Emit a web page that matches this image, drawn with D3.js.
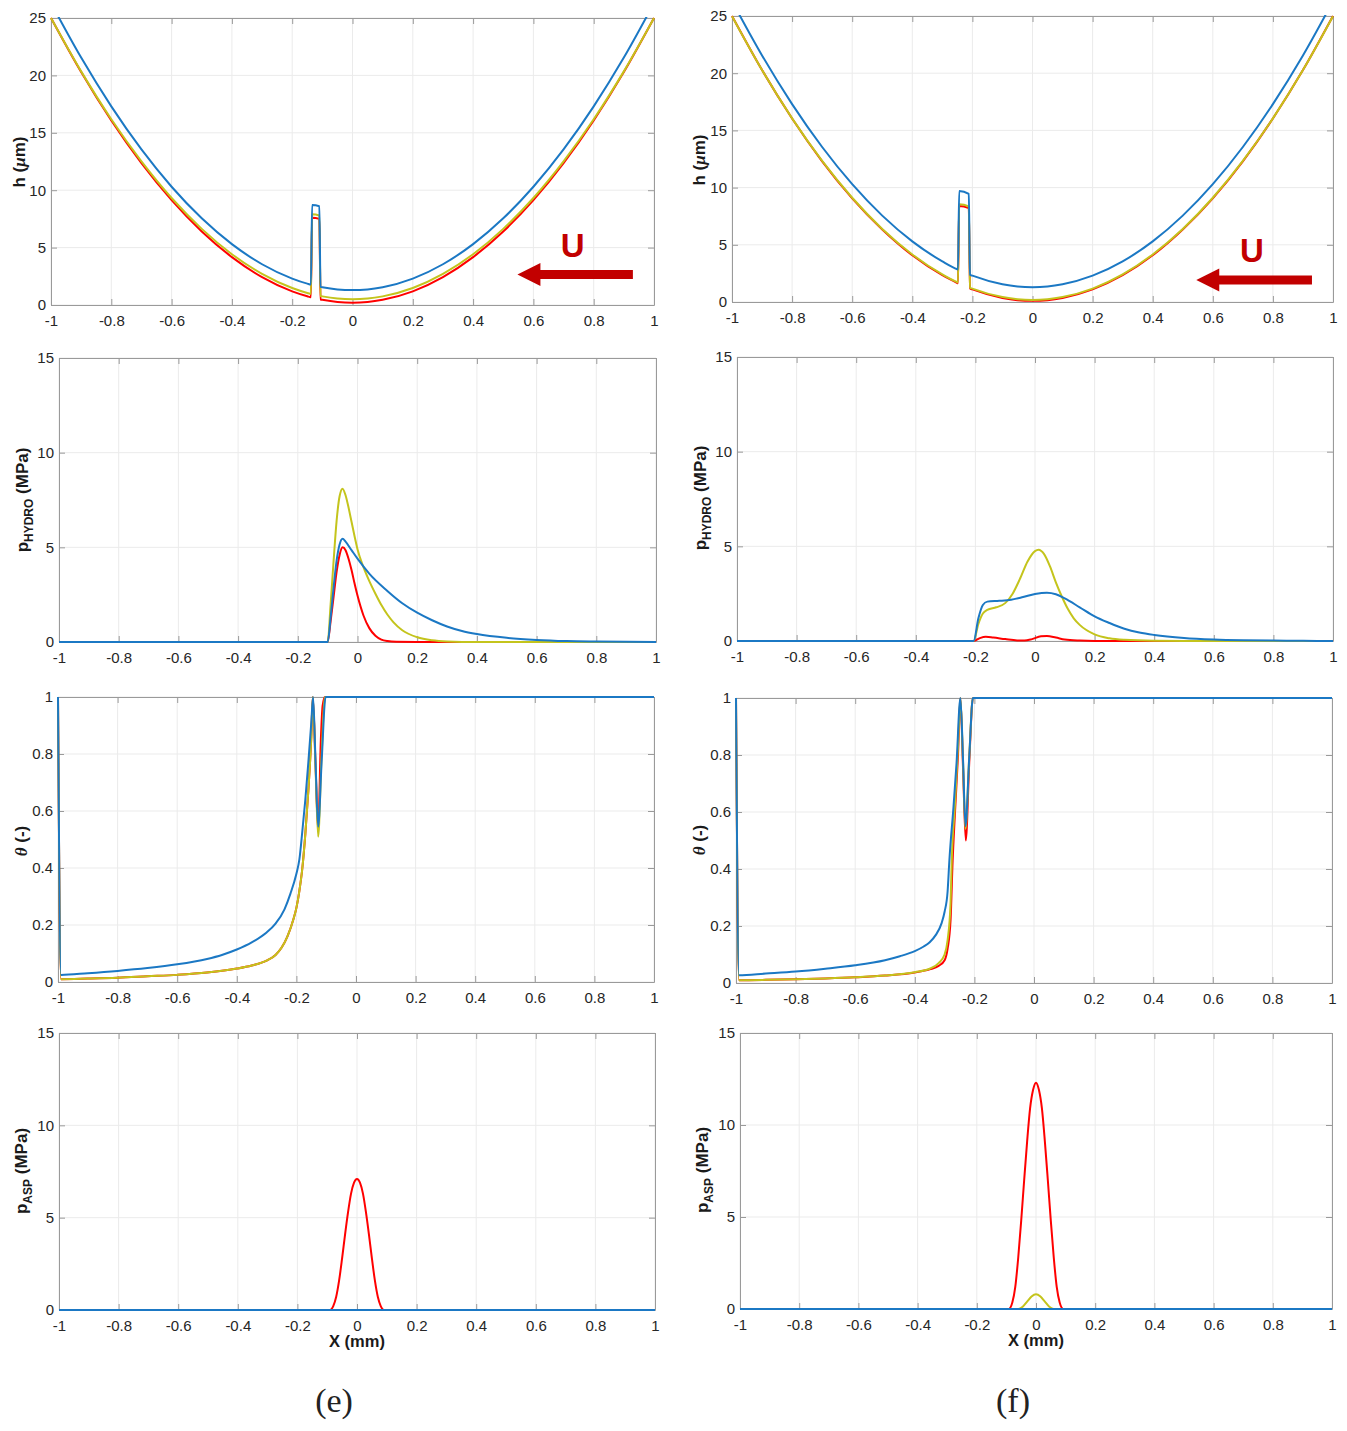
<!DOCTYPE html>
<html>
<head>
<meta charset="utf-8">
<script src="https://cdn.jsdelivr.net/npm/d3@7"></script>
<style>
  body { margin: 0; background: #fff; }
  svg { display: block; }
</style>
</head>
<body>
<svg id="fig" width="1347" height="1431"></svg>
<script>
// ---- ticks ----
const xTicks = [-1, -0.8, -0.6, -0.4, -0.2, 0, 0.2, 0.4, 0.6, 0.8, 1];
const xTickLabels = ["-1", "-0.8", "-0.6", "-0.4", "-0.2", "0", "0.2", "0.4", "0.6", "0.8", "1"];
const hTicks = [0, 5, 10, 15, 20, 25];
const pTicks = [0, 5, 10, 15];
const thetaTicks = [0, 0.2, 0.4, 0.6, 0.8, 1];

// ---- film thickness h (um), case (e) ----
const hRedE = [[-1,25.0],[-0.9,20.29],[-0.8,16.07],[-0.7,12.35],[-0.6,9.13],[-0.5,6.4],[-0.4,4.17],[-0.3,2.43],[-0.2,1.19],[-0.15,0.76],[-0.138,0.67],[-0.134,7.6],[-0.11,7.5],[-0.106,0.48],[-0.1,0.45],[-0.05,0.26],[0,0.2],[0.05,0.26],[0.1,0.45],[0.2,1.19],[0.3,2.43],[0.4,4.17],[0.5,6.4],[0.6,9.13],[0.7,12.35],[0.8,16.07],[0.9,20.29],[1,25.0]];
const hYelE = [[-1,25.0],[-0.9,20.35],[-0.8,16.18],[-0.7,12.51],[-0.6,9.32],[-0.5,6.63],[-0.4,4.42],[-0.3,2.71],[-0.2,1.48],[-0.15,1.05],[-0.138,0.97],[-0.134,7.9],[-0.11,7.8],[-0.106,0.78],[-0.1,0.75],[-0.05,0.56],[0,0.5],[0.05,0.56],[0.1,0.75],[0.2,1.48],[0.3,2.71],[0.4,4.42],[0.5,6.63],[0.6,9.32],[0.7,12.51],[0.8,16.18],[0.9,20.35],[1,25.0]];
const hBlueE = [[-1,26.3],[-0.9,21.55],[-0.8,17.3],[-0.7,13.55],[-0.6,10.3],[-0.5,7.55],[-0.4,5.3],[-0.3,3.55],[-0.2,2.3],[-0.15,1.86],[-0.138,1.78],[-0.134,8.7],[-0.11,8.6],[-0.106,1.58],[-0.1,1.55],[-0.05,1.36],[0,1.3],[0.05,1.36],[0.1,1.55],[0.2,2.3],[0.3,3.55],[0.4,5.3],[0.5,7.55],[0.6,10.3],[0.7,13.55],[0.8,17.3],[0.9,21.55],[1,26.3]];

// ---- film thickness h (um), case (f) ----
const hRedF = [[-1,25.0],[-0.9,20.27],[-0.8,16.04],[-0.7,12.3],[-0.6,9.06],[-0.5,6.33],[-0.4,4.08],[-0.3,2.34],[-0.25,1.66],[-0.248,1.63],[-0.244,8.4],[-0.212,8.2],[-0.208,1.18],[-0.2,1.1],[-0.1,0.35],[-0.05,0.16],[0,0.1],[0.05,0.16],[0.1,0.35],[0.2,1.1],[0.3,2.34],[0.4,4.08],[0.5,6.33],[0.6,9.06],[0.7,12.3],[0.8,16.04],[0.9,20.27],[1,25.0]];
const hYelF = [[-1,24.98],[-0.9,20.27],[-0.8,16.05],[-0.7,12.33],[-0.6,9.11],[-0.5,6.38],[-0.4,4.15],[-0.3,2.41],[-0.25,1.73],[-0.248,1.71],[-0.244,8.55],[-0.212,8.35],[-0.208,1.25],[-0.2,1.17],[-0.1,0.43],[-0.05,0.24],[0,0.18],[0.05,0.24],[0.1,0.43],[0.2,1.17],[0.3,2.41],[0.4,4.15],[0.5,6.38],[0.6,9.11],[0.7,12.33],[0.8,16.05],[0.9,20.27],[1,24.98]];
const hBlueF = [[-1,26.3],[-0.9,21.55],[-0.8,17.3],[-0.7,13.55],[-0.6,10.3],[-0.5,7.55],[-0.4,5.3],[-0.3,3.55],[-0.25,2.86],[-0.248,2.84],[-0.244,9.7],[-0.212,9.45],[-0.208,2.38],[-0.2,2.3],[-0.1,1.55],[-0.05,1.36],[0,1.3],[0.05,1.36],[0.1,1.55],[0.2,2.3],[0.3,3.55],[0.4,5.3],[0.5,7.55],[0.6,10.3],[0.7,13.55],[0.8,17.3],[0.9,21.55],[1,26.3]];

// ---- hydrodynamic pressure (MPa) ----
const hydroRedE = [[-1,0],[-0.1,0],[-0.09,1.1],[-0.08,2.4],[-0.07,3.7],[-0.06,4.6],[-0.05,5.0],[-0.04,4.85],[-0.03,4.4],[-0.02,3.8],[-0.01,3.1],[0,2.45],[0.02,1.4],[0.04,0.72],[0.06,0.33],[0.08,0.13],[0.1,0.05],[0.13,0.01],[0.2,0],[1,0]];
const hydroYelE = [[-1,0],[-0.1,0],[-0.09,2.0],[-0.08,4.3],[-0.07,6.4],[-0.06,7.7],[-0.05,8.1],[-0.04,7.75],[-0.03,7.1],[-0.02,6.35],[-0.01,5.6],[0,4.9],[0.02,3.95],[0.04,3.2],[0.06,2.55],[0.08,1.95],[0.1,1.45],[0.12,1.05],[0.15,0.62],[0.2,0.25],[0.25,0.09],[0.3,0.03],[0.4,0],[1,0]];
const hydroBlueE = [[-1,0],[-0.1,0],[-0.09,1.3],[-0.08,2.9],[-0.07,4.3],[-0.06,5.15],[-0.05,5.45],[-0.04,5.3],[-0.02,4.85],[0,4.4],[0.04,3.6],[0.1,2.7],[0.15,2.05],[0.2,1.55],[0.25,1.15],[0.3,0.82],[0.35,0.58],[0.4,0.42],[0.5,0.22],[0.6,0.11],[0.7,0.05],[0.8,0.025],[0.9,0.01],[1,0]];
const hydroRedF = [[-1,0],[-0.206,0],[-0.185,0.15],[-0.165,0.22],[-0.14,0.18],[-0.1,0.1],[-0.06,0.03],[-0.035,0.02],[-0.01,0.1],[0.02,0.25],[0.04,0.26],[0.07,0.18],[0.1,0.08],[0.15,0.02],[0.2,0],[1,0]];
const hydroYelF = [[-1,0],[-0.206,0],[-0.19,0.9],[-0.175,1.45],[-0.16,1.65],[-0.13,1.78],[-0.1,2.0],[-0.075,2.5],[-0.05,3.3],[-0.025,4.2],[0,4.75],[0.012,4.82],[0.03,4.6],[0.05,3.95],[0.07,3.1],[0.09,2.35],[0.11,1.7],[0.13,1.2],[0.15,0.85],[0.2,0.35],[0.25,0.14],[0.3,0.06],[0.4,0.01],[0.5,0],[1,0]];
const hydroBlueF = [[-1,0],[-0.206,0],[-0.19,1.2],[-0.175,1.9],[-0.16,2.08],[-0.12,2.12],[-0.08,2.18],[-0.04,2.32],[0,2.48],[0.04,2.55],[0.07,2.47],[0.1,2.25],[0.15,1.78],[0.2,1.3],[0.25,0.95],[0.3,0.65],[0.35,0.45],[0.4,0.32],[0.5,0.16],[0.6,0.08],[0.7,0.04],[0.8,0.02],[0.9,0.01],[1,0]];

// ---- fluid fraction theta (-) ----
const thetaRedE = [[-1,1],[-0.99,0.01],[-0.9,0.012],[-0.8,0.015],[-0.7,0.02],[-0.6,0.025],[-0.5,0.033],[-0.4,0.047],[-0.35,0.058],[-0.3,0.075],[-0.27,0.095],[-0.25,0.12],[-0.23,0.16],[-0.21,0.22],[-0.2,0.26],[-0.19,0.32],[-0.18,0.4],[-0.17,0.52],[-0.16,0.67],[-0.15,0.86],[-0.145,1.0],[-0.136,0.77],[-0.127,0.53],[-0.118,0.85],[-0.112,0.97],[-0.104,1.0],[1,1]];
const thetaYelE = [[-1,1],[-0.99,0.01],[-0.9,0.012],[-0.8,0.015],[-0.7,0.02],[-0.6,0.025],[-0.5,0.033],[-0.4,0.047],[-0.35,0.058],[-0.3,0.075],[-0.27,0.095],[-0.25,0.12],[-0.23,0.16],[-0.21,0.22],[-0.2,0.26],[-0.19,0.32],[-0.18,0.4],[-0.17,0.52],[-0.16,0.67],[-0.15,0.86],[-0.145,1.0],[-0.136,0.76],[-0.127,0.51],[-0.116,0.78],[-0.104,1.0],[1,1]];
const thetaBlueE = [[-1,1],[-0.99,0.025],[-0.9,0.031],[-0.8,0.039],[-0.7,0.049],[-0.6,0.062],[-0.5,0.081],[-0.45,0.095],[-0.4,0.114],[-0.35,0.139],[-0.3,0.174],[-0.27,0.205],[-0.24,0.255],[-0.22,0.31],[-0.2,0.38],[-0.19,0.43],[-0.18,0.53],[-0.17,0.64],[-0.16,0.77],[-0.15,0.91],[-0.144,1.0],[-0.136,0.78],[-0.127,0.545],[-0.115,0.78],[-0.102,1.0],[1,1]];
const thetaRedF = [[-1,1],[-0.99,0.01],[-0.9,0.011],[-0.8,0.013],[-0.7,0.016],[-0.6,0.02],[-0.5,0.026],[-0.4,0.037],[-0.35,0.048],[-0.32,0.06],[-0.3,0.08],[-0.29,0.12],[-0.28,0.22],[-0.273,0.43],[-0.265,0.6],[-0.255,0.8],[-0.247,1.0],[-0.238,0.75],[-0.229,0.5],[-0.217,0.78],[-0.205,1.0],[1,1]];
const thetaYelF = [[-1,1],[-0.99,0.01],[-0.9,0.011],[-0.8,0.013],[-0.7,0.016],[-0.6,0.02],[-0.5,0.026],[-0.4,0.038],[-0.35,0.05],[-0.32,0.07],[-0.3,0.1],[-0.29,0.15],[-0.28,0.28],[-0.276,0.43],[-0.265,0.63],[-0.255,0.83],[-0.247,1.0],[-0.238,0.77],[-0.23,0.54],[-0.217,0.8],[-0.205,1.0],[1,1]];
const thetaBlueF = [[-1,1],[-0.99,0.027],[-0.9,0.033],[-0.8,0.04],[-0.7,0.05],[-0.6,0.062],[-0.5,0.08],[-0.45,0.094],[-0.4,0.112],[-0.37,0.128],[-0.35,0.143],[-0.33,0.168],[-0.31,0.21],[-0.3,0.25],[-0.29,0.32],[-0.284,0.43],[-0.27,0.62],[-0.26,0.77],[-0.247,1.0],[-0.238,0.78],[-0.23,0.55],[-0.217,0.8],[-0.205,1.0],[1,1]];

// ---- asperity pressure (MPa) ----
const aspRedE = [[-1,0],[-0.09,0],[-0.08,0.2],[-0.07,0.7],[-0.06,1.6],[-0.05,2.8],[-0.04,4.1],[-0.03,5.3],[-0.02,6.3],[-0.01,6.9],[0,7.1],[0.01,6.9],[0.02,6.3],[0.03,5.3],[0.04,4.1],[0.05,2.8],[0.06,1.6],[0.07,0.7],[0.08,0.2],[0.09,0],[1,0]];
const aspYelE = [[-1,0],[1,0]];
const aspBlueE = [[-1,0],[1,0]];
const aspRedF = [[-1,0],[-0.092,0],[-0.08,0.35],[-0.07,1.2],[-0.06,2.8],[-0.05,4.8],[-0.04,7.0],[-0.03,9.1],[-0.02,10.9],[-0.01,11.9],[0,12.3],[0.01,11.9],[0.02,10.9],[0.03,9.1],[0.04,7.0],[0.05,4.8],[0.06,2.8],[0.07,1.2],[0.08,0.35],[0.092,0],[1,0]];
const aspYelF = [[-1,0],[-0.06,0],[-0.045,0.12],[-0.03,0.4],[-0.015,0.68],[0,0.8],[0.015,0.68],[0.03,0.4],[0.045,0.12],[0.06,0],[1,0]];
const aspBlueF = [[-1,0],[1,0]];

// ---- styles ----
const RED = "#ff0000", YEL = "#c4c41c", BLUE = "#1b78c4";
const FRAME = "#9a9a9a", GRID = "#ebebeb", INK = "#262626";
const SANS = "'Liberation Sans', Arial, Helvetica, sans-serif";
const SERIF = "'Liberation Serif', 'Times New Roman', serif";

const hLabel = [{t: "h ("}, {t: "\u03bc", it: true}, {t: "m)"}];
const hydroLabel = [{t: "p"}, {t: "HYDRO", sub: true}, {t: " (MPa)", up: true}];
const thetaLabel = [{t: "\u03b8", it: true}, {t: " (-)"}];
const aspLabel = [{t: "p"}, {t: "ASP", sub: true}, {t: " (MPa)", up: true}];

const panels = [
  {id: "e1", box: [51, 654, 18, 305], yDomain: [0, 25], yTicks: hTicks, label: hLabel, lab: [19, 162],
   series: [hRedE, hYelE, hBlueE], arrow: {tip: 0.547, tail: 0.93, y: 2.66, ux: 0.73, uy: 4.18}},
  {id: "e2", box: [59, 656, 358, 642], yDomain: [0, 15], yTicks: pTicks, label: hydroLabel, lab: [22, 500],
   series: [hydroRedE, hydroYelE, hydroBlueE]},
  {id: "e3", box: [58, 654, 697, 982], yDomain: [0, 1], yTicks: thetaTicks, label: thetaLabel, lab: [21, 841],
   series: [thetaRedE, thetaYelE, thetaBlueE]},
  {id: "e4", box: [59, 655, 1033, 1310], yDomain: [0, 15], yTicks: pTicks, label: aspLabel, lab: [21, 1171],
   series: [aspRedE, aspYelE, aspBlueE], xlabel: true},
  {id: "f1", box: [732, 1333, 16, 302], yDomain: [0, 25], yTicks: hTicks, label: hLabel, lab: [699, 160],
   series: [hRedF, hYelF, hBlueF], arrow: {tip: 0.545, tail: 0.93, y: 1.92, ux: 0.73, uy: 3.5}},
  {id: "f2", box: [737, 1333, 357, 641], yDomain: [0, 15], yTicks: pTicks, label: hydroLabel, lab: [700, 498],
   series: [hydroRedF, hydroYelF, hydroBlueF]},
  {id: "f3", box: [736, 1332, 698, 983], yDomain: [0, 1], yTicks: thetaTicks, label: thetaLabel, lab: [699, 840],
   series: [thetaRedF, thetaYelF, thetaBlueF]},
  {id: "f4", box: [740, 1332, 1033, 1309], yDomain: [0, 15], yTicks: pTicks, label: aspLabel, lab: [702, 1170],
   series: [aspRedF, aspYelF, aspBlueF], xlabel: true}
];
const colors = [RED, YEL, BLUE];

const svg = d3.select("#fig");

function styleAxis(sel) {
  sel.attr("font-family", SANS).attr("font-size", 15);
  sel.select(".domain").attr("stroke", FRAME);
  sel.selectAll(".tick line").attr("stroke", FRAME);
  sel.selectAll(".tick text").attr("fill", INK);
}

function drawPanel(p) {
  const [x0, x1, y0, y1] = p.box;
  const x = d3.scaleLinear().domain([-1, 1]).range([x0, x1]);
  const y = d3.scaleLinear().domain(p.yDomain).range([y1, y0]);
  const g = svg.append("g").attr("id", p.id);

  // grid
  g.append("g").selectAll("line").data(xTicks).join("line")
    .attr("x1", d => x(d)).attr("x2", d => x(d)).attr("y1", y0).attr("y2", y1)
    .attr("stroke", GRID);
  g.append("g").selectAll("line").data(p.yTicks).join("line")
    .attr("x1", x0).attr("x2", x1).attr("y1", d => y(d)).attr("y2", d => y(d))
    .attr("stroke", GRID);

  // axes, MATLAB-like box with inner ticks
  g.append("g").attr("transform", `translate(0,${y1})`)
    .call(d3.axisBottom(x).tickValues(xTicks).tickFormat(d => xTickLabels[xTicks.indexOf(d)])
      .tickSize(-6).tickSizeOuter(0).tickPadding(10))
    .call(styleAxis);
  g.append("g").attr("transform", `translate(0,${y0})`)
    .call(d3.axisTop(x).tickValues(xTicks).tickFormat("").tickSize(-6).tickSizeOuter(0))
    .call(styleAxis);
  g.append("g").attr("transform", `translate(${x0},0)`)
    .call(d3.axisLeft(y).tickValues(p.yTicks).tickFormat(d => String(d))
      .tickSize(-6).tickSizeOuter(0).tickPadding(5))
    .call(styleAxis);
  g.append("g").attr("transform", `translate(${x1},0)`)
    .call(d3.axisRight(y).tickValues(p.yTicks).tickFormat("").tickSize(-6).tickSizeOuter(0))
    .call(styleAxis);

  // curves
  svg.append("clipPath").attr("id", "clip-" + p.id)
    .append("rect").attr("x", x0 - 2).attr("y", y0 - 1).attr("width", x1 - x0 + 4).attr("height", y1 - y0 + 3);
  const line = d3.line().x(d => x(d[0])).y(d => y(d[1])).curve(d3.curveMonotoneX);
  g.append("g").attr("clip-path", `url(#clip-${p.id})`)
    .selectAll("path").data(p.series).join("path")
    .attr("d", line)
    .attr("fill", "none")
    .attr("stroke", (d, i) => colors[i])
    .attr("stroke-width", 2)
    .attr("stroke-linejoin", "round");

  // y label
  const t = g.append("text")
    .attr("transform", `translate(${p.lab[0]},${p.lab[1]}) rotate(-90)`)
    .attr("dy", "0.35em")
    .attr("text-anchor", "middle")
    .attr("font-family", SANS).attr("font-weight", "bold").attr("font-size", 17)
    .attr("fill", "#1a1a1a");
  p.label.forEach(part => {
    const s = t.append("tspan").text(part.t);
    if (part.it) s.attr("font-style", "italic").attr("font-family", SERIF);
    if (part.sub) s.attr("font-size", 12).attr("dy", "0.45em");
    if (part.up) s.attr("dy", "-0.32em");
  });

  if (p.xlabel) {
    g.append("text")
      .attr("x", x(0)).attr("y", y1 + 37)
      .attr("text-anchor", "middle")
      .attr("font-family", SANS).attr("font-weight", "bold").attr("font-size", 16.5)
      .attr("fill", "#1a1a1a")
      .text("X (mm)");
  }

  if (p.arrow) {
    const a = p.arrow;
    const tipX = x(a.tip), tailX = x(a.tail), yy = y(a.y);
    const head = 23, half = 11.5, shaft = 4.5;
    const pts = [[tipX, yy], [tipX + head, yy - half], [tipX + head, yy - shaft], [tailX, yy - shaft],
                 [tailX, yy + shaft], [tipX + head, yy + shaft], [tipX + head, yy + half]];
    g.append("path").attr("d", d3.line()(pts) + "Z").attr("fill", "#c20000");
    g.append("text")
      .attr("x", x(a.ux)).attr("y", y(a.uy))
      .attr("text-anchor", "middle")
      .attr("font-family", SANS).attr("font-weight", "bold").attr("font-size", 33)
      .attr("fill", "#c20000")
      .text("U");
  }
}

panels.forEach(drawPanel);

// sub-figure captions
svg.selectAll(".caption").data([["(e)", 334], ["(f)", 1013]]).join("text")
  .attr("class", "caption")
  .attr("x", d => d[1]).attr("y", 1412)
  .attr("text-anchor", "middle")
  .attr("font-family", SERIF).attr("font-size", 34)
  .attr("fill", "#222")
  .text(d => d[0]);
</script>
</body>
</html>
